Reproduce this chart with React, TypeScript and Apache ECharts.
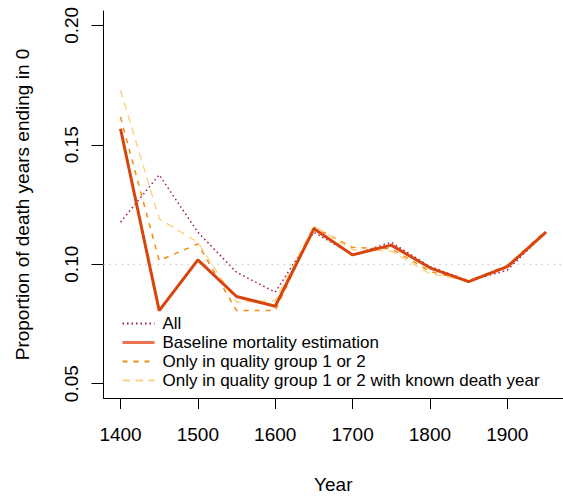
import React, { useEffect, useRef } from "react";
import * as echarts from "echarts";

const years = [1400, 1450, 1500, 1550, 1600, 1650, 1700, 1750, 1800, 1850, 1900, 1950];
const allValues = [0.1176, 0.1374, 0.1134, 0.0966, 0.0883, 0.1134, 0.104, 0.1092, 0.099, 0.093, 0.0975, 0.1135];
const baselineValues = [0.1567, 0.0806, 0.1018, 0.0865, 0.0824, 0.1148, 0.1039, 0.108, 0.0985, 0.0927, 0.099, 0.1134];
const qualityValues = [0.1616, 0.1015, 0.1085, 0.0806, 0.0806, 0.1155, 0.107, 0.1065, 0.097, 0.093, 0.0995, 0.114];
const knownValues = [0.1728, 0.119, 0.1092, 0.0841, 0.0848, 0.116, 0.106, 0.1055, 0.096, 0.093, 0.099, 0.114];
const xTicks = [1400, 1500, 1600, 1700, 1800, 1900];
const yTicks = [0.05, 0.1, 0.15, 0.2];
const referenceLevel = 0.1;

const names = [
  "All",
  "Baseline mortality estimation",
  "Only in quality group 1 or 2",
  "Only in quality group 1 or 2 with known death year",
];

const FONT = "'Liberation Sans', Arial, Helvetica, sans-serif";

export default function App() {
  const ref = useRef<HTMLDivElement>(null);
  useEffect(() => {
    if (!ref.current) return;
    const chart = echarts.init(ref.current, null, { renderer: "svg" });
    const pair = (vals: number[]) => years.map((y, i) => [y, vals[i]]);
    chart.setOption({
      animation: false,
      backgroundColor: "#ffffff",
      textStyle: { fontFamily: FONT },
      grid: { left: 103.5, right: 0, top: 11, bottom: 102, containLabel: false },
      legend: {
        orient: "vertical",
        left: 116,
        top: 310,
        itemWidth: 32,
        itemHeight: 14,
        itemGap: 2,
        itemStyle: { opacity: 0 },
        textStyle: { fontSize: 17, color: "#000", fontFamily: FONT, lineHeight: 17, padding: [0, 0, 0, 3] },
        data: [
          { name: names[0] },
          { name: names[1], lineStyle: { color: "#EC7352", width: 3 } },
          { name: names[2] },
          { name: names[3] },
        ],
      },
      xAxis: {
        type: "value",
        min: 1378,
        max: 1972,
        splitLine: { show: false },
        axisLine: { show: true, onZero: false, lineStyle: { color: "#000", width: 1 } },
        axisTick: { show: true, length: 11, lineStyle: { color: "#000" }, customValues: xTicks },
        axisLabel: {
          color: "#000",
          fontSize: 19,
          margin: 27,
          fontFamily: FONT,
          customValues: xTicks,
          formatter: (v: number) => String(v),
        },
        name: "Year",
        nameLocation: "middle",
        nameGap: 77,
        nameTextStyle: { fontSize: 19, color: "#000", fontFamily: FONT },
      },
      yAxis: {
        type: "value",
        min: 0.044,
        max: 0.206,
        splitLine: { show: false },
        axisLine: { show: true, onZero: false, lineStyle: { color: "#000", width: 1 } },
        axisTick: { show: true, length: 12, lineStyle: { color: "#000" }, customValues: yTicks },
        axisLabel: {
          color: "#000",
          fontSize: 19,
          rotate: 90,
          margin: 23,
          fontFamily: FONT,
          customValues: yTicks,
          formatter: (v: number) => v.toFixed(2),
        },
        name: "Proportion of death years ending in 0",
        nameLocation: "middle",
        nameRotate: 90,
        nameGap: 72,
        nameTextStyle: { fontSize: 19, color: "#000", fontFamily: FONT },
      },
      series: [
        {
          name: names[0],
          type: "line",
          symbol: "none",
          z: 2,
          data: pair(allValues),
          lineStyle: { color: "#A3195B", width: 1.5, type: [1.5, 3] },
          itemStyle: { color: "#A3195B" },
          markLine: {
            silent: true,
            symbol: "none",
            label: { show: false },
            lineStyle: { color: "#cfcfcf", width: 1.3, type: [1.5, 4.5] },
            data: [{ yAxis: referenceLevel }],
          },
        },
        {
          name: names[1],
          type: "line",
          symbol: "none",
          z: 5,
          data: pair(baselineValues),
          lineStyle: { color: "#D9430C", width: 3 },
          itemStyle: { color: "#D9430C" },
        },
        {
          name: names[2],
          type: "line",
          symbol: "none",
          z: 3,
          data: pair(qualityValues),
          lineStyle: { color: "#F28C0F", width: 1.5, type: [5, 6] },
          itemStyle: { color: "#F28C0F" },
        },
        {
          name: names[3],
          type: "line",
          symbol: "none",
          z: 3,
          data: pair(knownValues),
          lineStyle: { color: "#FDD38A", width: 1.5, type: [7.5, 5.5] },
          itemStyle: { color: "#FDD38A" },
        },
      ],
    });
    return () => chart.dispose();
  }, []);
  return (
    <div
      ref={ref}
      style={{ position: "absolute", left: 0, top: 0, width: 563, height: 500 }}
    />
  );
}
